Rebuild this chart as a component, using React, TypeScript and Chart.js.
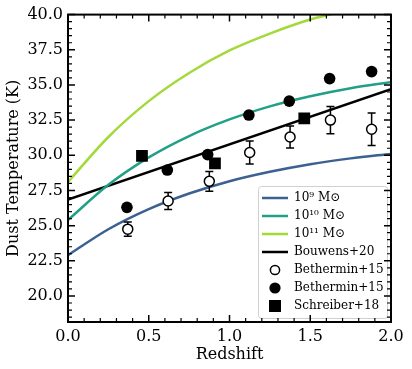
import React, { useEffect, useRef } from "react";
import { Chart, registerables } from "chart.js";

Chart.register(...registerables);

// ---------- data ----------
const Z_GRID = [0, 0.25, 0.5, 0.75, 1.0, 1.25, 1.5, 1.75, 2.0];
const T_1E9 = [22.9, 24.74, 26.17, 27.28, 28.16, 28.83, 29.37, 29.78, 30.1];
const T_1E10 = [25.4, 27.9, 29.85, 31.37, 32.55, 33.48, 34.2, 34.77, 35.2];
const T_1E11 = [28.1, 31.3, 33.85, 35.85, 37.45, 38.65, 39.65, 40.35, 40.95];

const BOUWENS_Z = [0, 2];
const BOUWENS_T = [26.85, 34.7];

const OPEN_Z = [0.37, 0.62, 0.875, 1.125, 1.375, 1.625, 1.88];
const OPEN_T = [24.75, 26.75, 28.15, 30.2, 31.3, 32.5, 31.85];
const OPEN_ERR = [0.5, 0.6, 0.7, 0.82, 0.78, 0.97, 1.15];

const FILLED_Z = [0.365, 0.615, 0.865, 1.12, 1.37, 1.62, 1.88];
const FILLED_T = [26.3, 28.95, 30.05, 32.86, 33.85, 35.45, 35.95];

const SQ_Z = [0.458, 0.91, 1.463];
const SQ_T = [29.95, 29.43, 32.63];

const X_TICKS = [0, 0.5, 1.0, 1.5, 2.0];
const Y_TICKS = [20, 22.5, 25, 27.5, 30, 32.5, 35, 37.5, 40];
const X_MIN = 0;
const X_MAX = 2;
const Y_MIN = 18.15;
const Y_MAX = 40;

const LABELS = [
  "10\u2079 M\u2299",
  "10\u00B9\u2070 M\u2299",
  "10\u00B9\u00B9 M\u2299",
  "Bouwens+20",
  "Bethermin+15",
  "Bethermin+15",
  "Schreiber+18",
];

const C_BLUE = "#3a6190";
const C_TEAL = "#22a087";
const C_GREEN = "#a3d93a";
const FONT = "'DejaVu Serif', serif";

const OPEN_IDX = 4;

function pts(xs: number[], ys: number[]) {
  return xs.map((x, i) => ({ x, y: ys[i] }));
}

function mkCanvas(w: number, h: number, draw: (c: CanvasRenderingContext2D) => void) {
  const c = document.createElement("canvas");
  c.width = w;
  c.height = h;
  const ctx = c.getContext("2d")!;
  draw(ctx);
  return c;
}

export default function App() {
  const ref = useRef<HTMLCanvasElement>(null);

  useEffect(() => {
    const canvas = ref.current!;

    const lineIcon = (color: string) =>
      mkCanvas(26, 4, (c) => {
        c.strokeStyle = color;
        c.lineWidth = 2.5;
        c.beginPath();
        c.moveTo(0, 2);
        c.lineTo(26, 2);
        c.stroke();
      });
    const icons = [
      lineIcon(C_BLUE),
      lineIcon(C_TEAL),
      lineIcon(C_GREEN),
      lineIcon("#000"),
      mkCanvas(12, 12, (c) => {
        c.beginPath();
        c.arc(6, 6, 4.6, 0, Math.PI * 2);
        c.fillStyle = "#fff";
        c.fill();
        c.lineWidth = 1.5;
        c.strokeStyle = "#000";
        c.stroke();
      }),
      mkCanvas(12, 12, (c) => {
        c.beginPath();
        c.arc(6, 6, 5.6, 0, Math.PI * 2);
        c.fillStyle = "#000";
        c.fill();
      }),
      mkCanvas(12, 12, (c) => {
        c.fillStyle = "#000";
        c.fillRect(0, 0, 12, 12);
      }),
    ];

    const plugin = {
      id: "frameTicks",
      afterLayout(chart: any) {
        const ca = chart.chartArea;
        const lg = chart.legend;
        if (!lg) return;
        const fl = ca.right - 133;
        const ft = ca.bottom - 136;
        lg.left = fl - 2;
        lg.top = ft;
        lg.right = ca.right - 4;
        lg.bottom = ca.bottom - 4;
        lg.width = lg.right - lg.left;
        lg.height = lg.bottom - lg.top;
        chart._legendFrame = { l: fl, t: ft, r: ca.right - 4, b: ca.bottom - 4 };
      },
      beforeDraw(chart: any) {
        const f = chart._legendFrame;
        if (!f) return;
        const ctx = chart.ctx;
        ctx.save();
        ctx.beginPath();
        ctx.roundRect(f.l + 0.5, f.t + 0.5, f.r - f.l, f.b - f.t, 3);
        ctx.fillStyle = "rgba(255,255,255,0.8)";
        ctx.fill();
        ctx.strokeStyle = "#d0d0d0";
        ctx.lineWidth = 1;
        ctx.stroke();
        ctx.restore();
      },
      beforeDatasetDraw(chart: any, args: any) {
        if (args.index !== OPEN_IDX) return;
        const ctx = chart.ctx;
        const xs = chart.scales.x;
        const ys = chart.scales.y;
        ctx.save();
        ctx.strokeStyle = "#000";
        ctx.lineWidth = 1.5;
        OPEN_Z.forEach((z, i) => {
          const x = xs.getPixelForValue(z);
          const y1 = ys.getPixelForValue(OPEN_T[i] - OPEN_ERR[i]);
          const y2 = ys.getPixelForValue(OPEN_T[i] + OPEN_ERR[i]);
          ctx.beginPath();
          ctx.moveTo(x, y1);
          ctx.lineTo(x, y2);
          ctx.moveTo(x - 4, y1);
          ctx.lineTo(x + 4, y1);
          ctx.moveTo(x - 4, y2);
          ctx.lineTo(x + 4, y2);
          ctx.stroke();
        });
        ctx.restore();
      },
      afterDraw(chart: any) {
        const ctx = chart.ctx;
        const ca = chart.chartArea;
        const xs = chart.scales.x;
        const ys = chart.scales.y;
        ctx.save();
        ctx.strokeStyle = "#000";
        const tick = (vals: number[], len: number, lw: number) => {
          ctx.lineWidth = lw;
          ctx.beginPath();
          vals.forEach((v) => {
            if (v < X_MIN - 1e-9 || v > X_MAX + 1e-9) return;
            const x = xs.getPixelForValue(v);
            ctx.moveTo(x, ca.bottom);
            ctx.lineTo(x, ca.bottom - len);
            ctx.moveTo(x, ca.top);
            ctx.lineTo(x, ca.top + len);
          });
          ctx.stroke();
        };
        const ytick = (vals: number[], len: number, lw: number) => {
          ctx.lineWidth = lw;
          ctx.beginPath();
          vals.forEach((v) => {
            if (v < Y_MIN - 1e-9 || v > Y_MAX + 1e-9) return;
            const y = ys.getPixelForValue(v);
            ctx.moveTo(ca.left, y);
            ctx.lineTo(ca.left + len, y);
            ctx.moveTo(ca.right, y);
            ctx.lineTo(ca.right - len, y);
          });
          ctx.stroke();
        };
        const xMinor: number[] = [];
        for (let i = 0; i <= 20; i++) if (i % 5 !== 0) xMinor.push(i / 10);
        const yMinor: number[] = [];
        for (let i = 36; i <= 80; i++) if (i % 5 !== 0) yMinor.push(i / 2);
        tick(X_TICKS, 7, 1.5);
        tick(xMinor, 4, 1.2);
        ytick(Y_TICKS, 7, 1.5);
        ytick(yMinor, 4, 1.2);
        ctx.lineWidth = 2;
        ctx.strokeRect(ca.left, ca.top, ca.right - ca.left, ca.bottom - ca.top);
        ctx.restore();
      },
    };

    const lineDs = (label: string, xs: number[], ys: number[], color: string, smooth: boolean) => ({
      type: "line",
      label,
      data: pts(xs, ys),
      borderColor: color,
      backgroundColor: color,
      borderWidth: 2.5,
      pointRadius: 0,
      cubicInterpolationMode: smooth ? "monotone" : "default",
      fill: false,
      order: 2,
    });

    const chart = new Chart(canvas, {
      type: "scatter",
      data: {
        datasets: [
          lineDs(LABELS[0], Z_GRID, T_1E9, C_BLUE, true),
          lineDs(LABELS[1], Z_GRID, T_1E10, C_TEAL, true),
          lineDs(LABELS[2], Z_GRID, T_1E11, C_GREEN, true),
          lineDs(LABELS[3], BOUWENS_Z, BOUWENS_T, "#000", false),
          {
            label: LABELS[4],
            data: pts(OPEN_Z, OPEN_T),
            pointStyle: "circle",
            pointRadius: 5,
            backgroundColor: "#fff",
            borderColor: "#000",
            borderWidth: 1.5,
            order: 1,
          },
          {
            label: LABELS[5],
            data: pts(FILLED_Z, FILLED_T),
            pointStyle: "circle",
            pointRadius: 5.8,
            backgroundColor: "#000",
            borderColor: "#000",
            borderWidth: 0,
            order: 1,
          },
          {
            label: LABELS[6],
            data: pts(SQ_Z, SQ_T),
            pointStyle: "rect",
            pointRadius: 8.3,
            backgroundColor: "#000",
            borderColor: "#000",
            borderWidth: 0,
            order: 1,
          },
        ],
      } as any,
      options: {
        animation: false,
        responsive: false,
        maintainAspectRatio: false,
        events: [],
        layout: { padding: { top: 14, right: 21, bottom: 0, left: 0 } },
        plugins: {
          tooltip: { enabled: false },
          legend: {
            position: "chartArea" as any,
            align: "start",
            labels: {
              usePointStyle: true,
              pointStyleWidth: 26,
              boxHeight: 12,
              padding: 6,
              color: "#000",
              font: { family: FONT, size: 12 },
              sort: (a: any, b: any) => a.datasetIndex - b.datasetIndex,
              generateLabels: (ch: any) => {
                const items = (Chart.defaults.plugins.legend.labels as any).generateLabels(ch);
                return items.map((it: any) => ({
                  ...it,
                  pointStyle: icons[it.datasetIndex],
                  lineWidth: 0,
                  fontColor: "#000",
                }));
              },
            },
          },
        },
        scales: {
          x: {
            type: "linear",
            min: X_MIN,
            max: X_MAX,
            grid: { display: false, drawTicks: false },
            border: { display: false },
            ticks: {
              color: "#000",
              font: { family: FONT, size: 16 },
              padding: 5,
              maxRotation: 0,
              autoSkip: false,
              callback: (v: any) => Number(v).toFixed(1),
            },
            title: {
              display: true,
              text: "Redshift",
              color: "#000",
              font: { family: FONT, size: 16 },
              padding: { top: 0, bottom: 5 },
            },
            afterBuildTicks: (s: any) => {
              s.ticks = X_TICKS.map((v) => ({ value: v }));
            },
            afterFit: (s: any) => {
              s.height = 47;
            },
          },
          y: {
            type: "linear",
            min: Y_MIN,
            max: Y_MAX,
            grid: { display: false, drawTicks: false },
            border: { display: false },
            ticks: {
              color: "#000",
              font: { family: FONT, size: 16 },
              padding: 5,
              autoSkip: false,
              callback: (v: any) => Number(v).toFixed(1),
            },
            title: {
              display: true,
              text: "Dust Temperature (K)",
              color: "#000",
              font: { family: FONT, size: 16 },
              padding: { top: 4, bottom: 0 },
            },
            afterBuildTicks: (s: any) => {
              s.ticks = Y_TICKS.map((v) => ({ value: v }));
            },
            afterFit: (s: any) => {
              s.width = 68;
            },
          },
        },
      } as any,
      plugins: [plugin as any],
    });

    return () => chart.destroy();
  }, []);

  return (
    <div
      style={{
        position: "fixed",
        left: 0,
        top: 0,
        width: 412,
        height: 369,
        background: "#fff",
      }}
    >
      <canvas ref={ref} width={412} height={369} style={{ display: "block" }} />
    </div>
  );
}
